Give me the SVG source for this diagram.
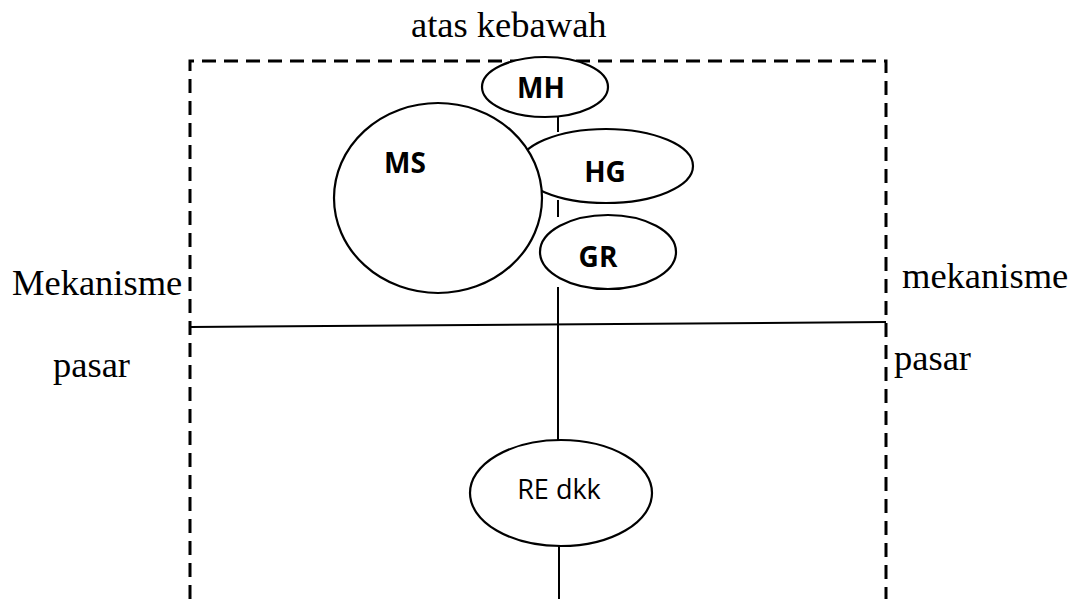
<svg xmlns="http://www.w3.org/2000/svg" width="1075" height="599" viewBox="0 0 1075 599">
  <style>
    .frame { fill: none; stroke: #000; stroke-width: 3; stroke-dasharray: 14 8; }
    .link { fill: none; stroke: #000; stroke-width: 2; }
    .shape { fill: #fff; stroke: #000; stroke-width: 2.2; }
    .serif { font-family: "Liberation Serif", "Times New Roman", serif; font-size: 36.5px; fill: #000; }
    .label { font-family: "Open Sans", "Liberation Sans", sans-serif; font-size: 28px; font-weight: bold; fill: #000; text-anchor: middle; }
    .label-plain { font-family: "Open Sans", "Liberation Sans", sans-serif; font-size: 27px; fill: #000; text-anchor: middle; }
  </style>

  <rect width="1075" height="599" fill="#fff"/>

  <!-- dashed boundary (open at the bottom) -->
  <g id="frame">
    <path class="frame" d="M190 599 V61 H886 V599"/>
  </g>

  <!-- connectors -->
  <g id="connectors">
    <path class="link" d="M190 327 L886 322"/>
    <path class="link" d="M558 115 V132"/>
    <path class="link" d="M558 200 V217"/>
    <path class="link" d="M558 287 V442"/>
    <path class="link" d="M559 545 V599"/>
  </g>

  <!-- side labels -->
  <g id="labels">
    <text class="serif" x="411" y="37">atas kebawah</text>
    <text class="serif" x="12" y="295">Mekanisme</text>
    <text class="serif" x="53" y="377">pasar</text>
    <text class="serif" x="902" y="288">mekanisme</text>
    <text class="serif" x="894" y="370">pasar</text>
  </g>

  <g id="node-mh">
    <ellipse class="shape" cx="545" cy="87" rx="63" ry="30"/>
    <text class="label" x="541" y="98">MH</text>
  </g>

  <g id="node-hg">
    <ellipse class="shape" cx="606" cy="166" rx="87" ry="37"/>
    <text class="label" x="605" y="182">HG</text>
  </g>

  <g id="node-ms">
    <ellipse class="shape" cx="438" cy="198" rx="104" ry="95"/>
    <text class="label" x="405" y="173">MS</text>
  </g>

  <g id="node-gr">
    <ellipse class="shape" cx="608" cy="252" rx="68" ry="37"/>
    <text class="label" x="598" y="267">GR</text>
  </g>

  <g id="node-re">
    <ellipse class="shape" cx="561" cy="493" rx="91" ry="53"/>
    <text class="label-plain" x="559" y="499">RE dkk</text>
  </g>
</svg>
